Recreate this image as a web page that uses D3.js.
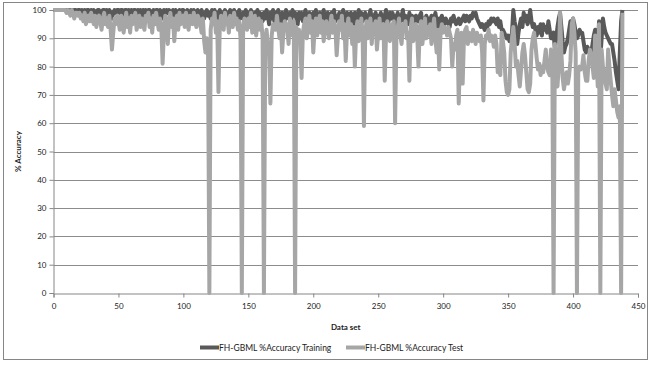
<!DOCTYPE html>
<html>
<head>
<meta charset="utf-8">
<script src="https://cdn.jsdelivr.net/npm/d3@7"></script>
<style>
  body { margin: 0; background: #fff; }
  svg { display: block; font-family: Lato, "Open Sans", sans-serif; }
</style>
</head>
<body>
<div id="chart"></div>
<script>
// series values, one per data set (index 0..438)
const training = [
  100,100,100,100,100,100,100,100,100,100,
  100,100,99,100,100,99,100,100,99,100,
  100,99,100,98,100,99,100,100,98,100,
  99,100,99,98,100,100,99,98,100,100,
  99,100,98,100,99,97,99,100,99,100,
  100,99,100,100,98,100,100,99,100,98,
  100,99,100,100,98,100,99,100,97,100,
  99,100,98,100,100,97,99,100,98,100,
  100,98,100,99,97,100,98,100,99,100,
  99,97,100,98,100,99,97,100,98,100,
  100,98,99,100,97,99,100,98,100,99,
  98,100,99,97,100,98,97,99,100,98,
  99,97,100,98,100,96,99,97,100,98,
  97,99,100,98,96,99,100,97,98,100,
  98,96,99,100,97,98,99,96,100,98,
  99,97,100,98,96,99,98,100,97,99,
  98,96,99,97,100,98,95,99,97,100,
  96,99,98,100,97,95,99,98,96,100,
  98,97,99,96,100,98,99,97,95,99,
  97,99,96,98,100,97,95,99,98,96,
  99,97,100,96,98,99,95,98,100,97,
  96,99,98,95,99,97,100,96,98,97,
  99,96,98,100,97,95,99,98,96,99,
  97,95,99,98,96,100,97,99,96,98,
  99,97,96,98,100,97,95,98,99,96,
  98,96,99,97,95,98,100,97,96,99,
  97,99,96,98,95,99,97,96,98,100,
  96,98,97,95,99,96,98,97,95,98,
  97,96,98,99,95,97,96,98,95,97,
  96,98,95,97,99,96,94,97,95,98,
  96,95,97,96,95,94,97,96,98,96,
  95,96,97,95,96,97,98,96,98,97,
  96,98,97,99,98,99,97,96,95,94,
  95,94,93,95,94,96,95,97,96,97,
  96,95,97,94,96,93,93,92,91,90,
  91,89,90,92,100,96,93,88,92,95,
  97,94,99,96,98,95,97,100,96,94,
  95,93,91,94,92,95,91,95,93,94,
  92,96,93,90,91,92,86,90,94,97,
  99,94,89,85,87,88,90,93,96,95,
  97,95,92,90,91,93,92,92,89,86,
  85,87,86,85,85,88,91,93,89,85,
  96,83,90,97,94,92,91,90,89,88,
  88,85,82,78,75,72,85,96,100
];

const test = [
  100,100,100,100,100,100,100,100,100,100,
  99,100,99,98,100,99,97,99,99,98,
  99,97,98,96,99,95,97,98,96,99,
  97,95,98,94,97,98,96,93,97,99,
  95,97,94,98,93,86,92,97,95,98,
  96,93,98,97,92,96,99,94,97,92,
  98,95,97,99,93,96,98,94,97,95,
  93,98,96,99,94,97,92,98,95,99,
  96,93,97,94,81,92,98,95,88,97,
  99,94,97,89,96,98,93,99,95,97,
  98,94,99,96,93,98,97,95,99,96,
  94,98,97,95,92,97,89,85,90,84,
  0,93,97,95,99,92,96,71,94,98,
  96,93,99,95,97,92,98,96,94,99,
  95,97,93,96,90,0,94,97,95,93,
  97,94,99,92,96,98,91,95,97,93,
  96,90,0,89,93,88,85,67,91,95,
  95,93,98,94,90,95,85,92,96,95,
  93,88,97,95,91,96,0,94,90,93,
  88,76,92,95,97,90,94,98,92,96,
  85,93,97,91,95,98,92,96,89,94,
  96,93,90,95,98,92,96,94,84,91,
  96,93,98,90,95,82,93,97,91,95,
  88,94,80,92,96,89,93,97,91,59,
  92,96,90,94,97,88,95,93,96,86,
  92,97,90,94,95,75,91,96,93,89,
  95,92,96,60,90,94,97,91,88,95,
  93,96,90,92,75,94,97,89,93,95,
  91,80,94,96,88,92,97,90,94,91,
  95,88,93,97,90,85,93,79,92,95,
  92,94,93,91,94,92,90,80,88,86,
  91,93,67,85,92,74,90,93,94,88,
  92,90,89,93,91,88,92,90,89,91,
  85,68,88,91,90,93,89,91,90,87,
  91,88,78,80,77,92,89,85,75,71,
  70,72,85,90,94,88,80,82,77,73,
  79,85,88,84,78,72,71,74,86,90,
  92,88,83,79,81,77,80,78,82,86,
  80,78,77,86,84,0,88,82,73,80,
  99,85,76,72,75,78,74,77,82,95,
  97,92,85,0,78,80,79,80,84,78,
  75,75,82,86,84,80,76,91,84,73,
  95,0,86,80,78,74,72,86,80,75,
  70,66,72,68,64,62,66,0,99
];

const seriesNames = ["FH-GBML %Accuracy Training", "FH-GBML %Accuracy Test"];
const seriesColors = ["#595959", "#a6a6a6"];
const xTicks = [0, 50, 100, 150, 200, 250, 300, 350, 400, 450];
const yTicks = [0, 10, 20, 30, 40, 50, 60, 70, 80, 90, 100];

const width = 651, height = 365;
const margin = { top: 10, right: 13, bottom: 72, left: 53.5 };

const svg = d3.select("#chart").append("svg")
  .attr("width", width)
  .attr("height", height);

// outer chart border
svg.append("rect")
  .attr("x", 3.5).attr("y", 2.5)
  .attr("width", 644).attr("height", 357)
  .attr("fill", "none")
  .attr("stroke", "#868686")
  .attr("stroke-width", 1);

const x = d3.scaleLinear().domain([0, 450]).range([margin.left, width - margin.right]);
const y = d3.scaleLinear().domain([0, 100]).range([height - margin.bottom, margin.top]);

// horizontal gridlines
svg.append("g")
  .selectAll("line")
  .data(yTicks.filter(d => d > 0))
  .join("line")
  .attr("x1", x(0)).attr("x2", x(450))
  .attr("y1", d => Math.round(y(d)) + 0.5)
  .attr("y2", d => Math.round(y(d)) + 0.5)
  .attr("stroke", "#8c8c8c")
  .attr("stroke-width", 1);

// axes
const yAxis = d3.axisLeft(y).tickValues(yTicks).tickSize(4).tickPadding(3);
const xAxis = d3.axisBottom(x).tickValues(xTicks).tickSize(4).tickPadding(6);

const gy = svg.append("g")
  .attr("transform", `translate(${x(0)},0)`)
  .call(yAxis);
const gx = svg.append("g")
  .attr("transform", `translate(0,${Math.round(y(0)) + 0.5})`)
  .call(xAxis);

[gy, gx].forEach(g => {
  g.select(".domain").attr("stroke", "#868686");
  g.selectAll(".tick line").attr("stroke", "#868686");
  g.selectAll(".tick text")
    .attr("fill", "#222")
    .style("font-size", "8px")
    .style("font-family", "Lato, sans-serif");
});

// lines
const line = d3.line()
  .x((d, i) => x(i))
  .y(d => y(d));

[training, test].forEach((values, k) => {
  svg.append("path")
    .datum(values)
    .attr("fill", "none")
    .attr("stroke", seriesColors[k])
    .attr("stroke-width", 4)
    .attr("stroke-linejoin", "round")
    .attr("d", line);
});

// axis titles
svg.append("text")
  .attr("x", (x(0) + x(450)) / 2)
  .attr("y", 330)
  .attr("text-anchor", "middle")
  .style("font-size", "8px")
  .style("font-weight", "bold")
  .attr("fill", "#222")
  .text("Data set");

svg.append("text")
  .attr("transform", `translate(21,${(y(0) + y(100)) / 2}) rotate(-90)`)
  .attr("text-anchor", "middle")
  .style("font-size", "8px")
  .style("font-weight", "bold")
  .attr("fill", "#222")
  .text("% Accuracy");

// legend
const legendX = [200, 346];
const legend = svg.append("g");
seriesNames.forEach((name, k) => {
  legend.append("line")
    .attr("x1", legendX[k]).attr("x2", legendX[k] + 19)
    .attr("y1", 347.5).attr("y2", 347.5)
    .attr("stroke", seriesColors[k])
    .attr("stroke-width", 4);
  legend.append("text")
    .attr("x", legendX[k] + 19)
    .attr("y", 350.5)
    .style("font-size", "8.5px")
    .attr("fill", "#222")
    .text(name);
});
</script>
</body>
</html>
